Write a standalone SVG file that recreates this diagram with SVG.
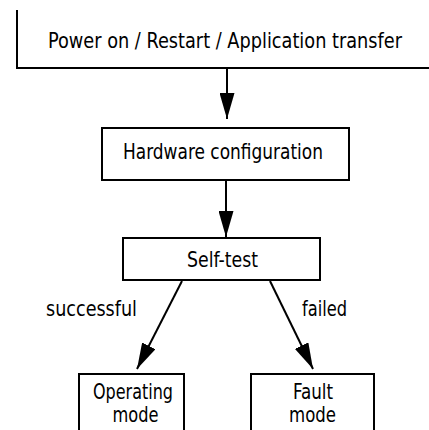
<svg xmlns="http://www.w3.org/2000/svg" width="429" height="430" viewBox="0 0 429 430">
<defs>
<marker id="ah" markerUnits="userSpaceOnUse" markerWidth="26" markerHeight="15" refX="26" refY="7.5" viewBox="0 0 26 15" orient="auto">
<path d="M0,0 L26,7.5 L0,15 Z" fill="#000"/>
</marker>
</defs>
<style>
text{font-family:"DejaVu Sans Condensed","Liberation Sans Narrow","Liberation Sans",sans-serif;font-size:22px;fill:#000;text-anchor:middle}
.box{fill:#fff;stroke:#000;stroke-width:2}
.ln{fill:none;stroke:#000;stroke-width:2}
</style>
<g id="start">
<path class="ln" d="M17,10 V68 H429"/>
<text x="225" y="48" textLength="354" lengthAdjust="spacingAndGlyphs">Power on / Restart / Application transfer</text>
</g>
<g id="hardware">
<rect class="box" x="102" y="128" width="247" height="52"/>
<text x="223" y="159" textLength="200" lengthAdjust="spacingAndGlyphs">Hardware configuration</text>
</g>
<g id="selftest">
<rect class="box" x="123" y="238" width="197" height="42"/>
<text x="222.5" y="267" textLength="71" lengthAdjust="spacingAndGlyphs">Self-test</text>
</g>
<g id="operating">
<rect class="box" x="79" y="374" width="105" height="70"/>
<text x="133" y="399" textLength="80" lengthAdjust="spacingAndGlyphs">Operating</text>
<text x="135.5" y="422" textLength="46" lengthAdjust="spacingAndGlyphs">mode</text>
</g>
<g id="fault">
<rect class="box" x="251" y="374" width="123" height="70"/>
<text x="313" y="399" textLength="40" lengthAdjust="spacingAndGlyphs">Fault</text>
<text x="312.5" y="422" textLength="47" lengthAdjust="spacingAndGlyphs">mode</text>
</g>
<g id="connectors">
<line class="ln" x1="227" y1="68" x2="227" y2="119" marker-end="url(#ah)"/>
<line class="ln" x1="226" y1="180" x2="226" y2="237" marker-end="url(#ah)"/>
<line class="ln" x1="182" y1="281" x2="137" y2="369" marker-end="url(#ah)"/>
<line class="ln" x1="270" y1="281" x2="313" y2="369" marker-end="url(#ah)"/>
<text x="91.5" y="316" textLength="91" lengthAdjust="spacingAndGlyphs">successful</text>
<text x="324.5" y="316" textLength="45" lengthAdjust="spacingAndGlyphs">failed</text>
</g>
</svg>
